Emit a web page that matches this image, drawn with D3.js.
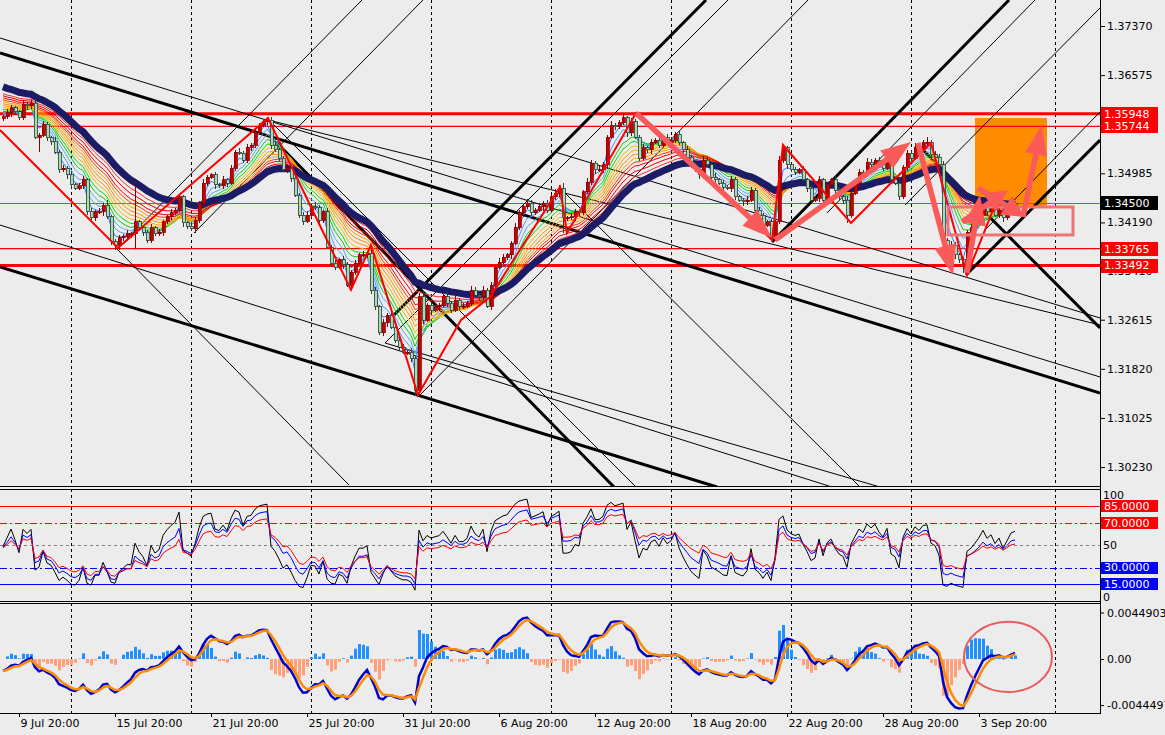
<!DOCTYPE html>
<html>
<head>
<meta charset="utf-8">
<script src="https://cdn.jsdelivr.net/npm/d3@7"></script>
<style>
  body { margin: 0; background: #ececec; }
  svg { display: block; font-family: "DejaVu Sans", sans-serif; font-size: 11px; }
</style>
</head>
<body>
<div id="chart"></div>
<script>
// ---- price data (H4 closes) ----
const firstOpen = 1.35880;
const closes = [
  1.35897,1.35962,1.36043,1.35978,1.35881,1.36107,1.36075,1.36123,1.35573,1.35605,
  1.35783,1.35557,1.35508,1.35330,1.35039,1.35071,1.34958,1.34796,1.34747,1.34780,
  1.34877,1.34375,1.34262,1.34359,1.34359,1.34472,1.34278,1.33889,1.33824,1.33938,
  1.33970,1.34003,1.34003,1.34197,1.34100,1.34035,1.33905,1.34100,1.34003,1.34035,
  1.34197,1.34278,1.34343,1.34391,1.34602,1.34181,1.34132,1.34084,1.34229,1.34504,
  1.34828,1.34925,1.34958,1.34796,1.34780,1.34877,1.34828,1.35071,1.35330,1.35314,
  1.35200,1.35411,1.35443,1.35638,1.35767,1.35816,1.35848,1.35443,1.35363,1.35233,
  1.35039,1.35071,1.34909,1.34634,1.34310,1.34213,1.34310,1.34440,1.34424,1.34229,
  1.34359,1.33792,1.33533,1.33468,1.33582,1.33501,1.33177,1.33387,1.33533,1.33663,
  1.33663,1.33695,1.33096,1.32821,1.32400,1.32562,1.32691,1.32497,1.32286,1.32173,
  1.32092,1.32092,1.31995,1.31477,1.32983,1.32610,1.32853,1.32772,1.32821,1.32853,
  1.32983,1.32885,1.32772,1.32934,1.32837,1.32837,1.32885,1.33096,1.33015,1.32983,
  1.33096,1.32837,1.33177,1.33468,1.33549,1.33630,1.33663,1.33857,1.34116,1.34343,
  1.34440,1.34504,1.34343,1.34391,1.34440,1.34504,1.34391,1.34602,1.34666,1.34747,
  1.34262,1.34262,1.34278,1.34359,1.34343,1.34683,1.34844,1.35152,1.35039,1.35039,
  1.35120,1.35573,1.35767,1.35735,1.35800,1.35881,1.35638,1.35816,1.35573,1.35233,
  1.35395,1.35363,1.35492,1.35524,1.35443,1.35557,1.35492,1.35524,1.35621,1.35476,
  1.35363,1.35249,1.35120,1.35039,1.34958,1.35200,1.35120,1.34925,1.34877,1.34828,
  1.34763,1.34747,1.34877,1.34602,1.34553,1.34521,1.34553,1.34715,1.34391,1.34310,
  1.34148,1.34197,1.33954,1.34197,1.35200,1.35395,1.35120,1.35039,1.35006,1.35039,
  1.34877,1.34747,1.34553,1.34585,1.34877,1.34553,1.34796,1.34877,1.34715,1.34602,
  1.34553,1.34310,1.34666,1.34828,1.35006,1.34958,1.35168,1.35120,1.35200,1.35120,
  1.35071,1.35200,1.34877,1.34828,1.34602,1.35087,1.35314,1.35233,1.35411,1.35363,
  1.35476,1.35492,1.35282,1.35249,1.35120,1.33905,1.33776,1.33824,1.33663,1.33582,
  1.33501,1.34035,1.34100,1.34197,1.34310,1.34472,1.34359,1.34424,1.34310,1.34391,
  1.34262,1.34359,1.34472,1.34500
];
// wick lengths in pips
const upperWick = [
  4,6,5,3,4,7,3,5,6,4, 5,3,4,6,4,5,3,6,4,5, 7,4,5,3,6,4,8,3,4,5, 4,6,3,65,4,5,3,6,4,5,
  3,4,6,4,5,3,4,6,5,4, 6,4,3,5,4,6,3,5,4,6, 4,5,3,6,4,3,4,5,6,3, 4,6,5,3,4,5,6,4,8,5,
  4,6,3,5,4,6,5,4,5,3, 6,4,13,5,3,6,4,5,3,4, 5,3,6,4,6,10,4,5,6,3, 5,8,4,6,3,5,4,7,5,4,
  6,3,5,4,6,5,4,3,6,5, 4,6,5,3,7,4,5,4,6,5, 8,4,6,5,3,4,6,5,4,6, 5,4,6,3,5,8,4,6,5,4,
  6,4,5,3,5,4,6,5,3,5, 4,6,3,5,4,6,5,4,6,3, 5,4,6,5,3,4,6,5,4,5, 4,3,5,4,6,5,4,3,5,4,
  6,4,5,3,6,4,5,4,6,5, 4,6,5,3,5,4,6,5,4,5, 6,4,5,3,6,4,5,4,6,5, 5,8,4,6,5,7,4,6,5,4,
  5,4,6,5,4,6,5,4,6,5, 4,6,5,3
];
const lowerWick = [
  5,4,6,5,3,4,6,5,4,25, 4,5,6,3,5,4,6,5,4,3, 5,6,4,5,3,6,4,6,8,8, 5,4,6,25,5,6,4,5,3,4,
  6,4,5,3,4,6,5,4,6,5, 4,5,3,6,4,5,6,4,5,3, 5,4,6,5,3,4,5,6,4,5, 4,5,6,4,5,6,4,5,3,6,
  5,4,6,5,4,6,3,8,5,4, 4,5,6,5,4,5,6,4,5,6, 4,5,6,10,5,6,4,5,3,6, 4,6,5,4,6,5,3,5,4,6,
  5,4,6,5,4,3,5,6,4,5, 6,4,5,3,4,6,5,4,5,6, 24,5,4,6,5,4,3,5,6,4, 5,6,4,5,3,4,6,5,4,5,
  4,5,6,4,5,3,4,6,5,4, 6,4,5,3,6,5,4,6,5,4, 5,4,6,5,4,6,5,3,4,6, 5,4,5,6,4,5,6,4,5,3,
  4,6,5,4,6,5,3,4,6,5, 6,13,5,4,6,5,4,3,5,4, 5,4,6,3,5,4,6,5,4,6, 4,5,6,4,5,6,5,4,6,5,
  13,5,4,6,5,4,6,5,4,5, 6,4,5,3
];

// time axis
const tickBars = [4, 28, 52, 76, 100, 124, 148, 172, 196, 220, 244];
const tickLabels = ['9 Jul 20:00','15 Jul 20:00','21 Jul 20:00','25 Jul 20:00','31 Jul 20:00',
  '6 Aug 20:00','12 Aug 20:00','18 Aug 20:00','22 Aug 20:00','28 Aug 20:00','3 Sep 20:00'];
const gridBars = [17, 47, 77, 107, 137, 167, 197, 227, 263];

// price axis
const priceTicks = [1.37370, 1.36575, 1.34985, 1.34190, 1.33410, 1.32615, 1.31820, 1.31025, 1.30230];
const levelPrices = [1.35948, 1.35744, 1.33765, 1.33492];
const levelThick = [true, false, false, true];
const bidPrice = 1.34500;

// moving average ribbon
const ribbonPeriods = [3, 5, 7, 9, 11, 13, 15, 17, 19, 21, 23, 26, 29];
const ribbonColors = ['#2f7fff','#4c9cff','#5aaaf0','#16c816','#00e000','#ffb400','#ffa000','#ff8c00','#ffa500',
  '#ff3c00','#ff0000','#e80000','#ff2a2a'];
const ribbonSeeds = [1.35945,1.35962,1.35978,1.36010,1.36043,1.36075,1.36107,1.36140,1.36172,1.36204,1.36237,1.36269,1.36301];
const slowPeriod = 34;
const slowSeed = 1.36415;

// drawn objects [bar, price]
const zigzag = [[-0.75,1.35686],[28.75,1.33776],[66.25,1.35881],[87,1.33097],[92,1.33825],[103.75,1.31396],
  [114.5,1.32610],[121.75,1.32983],[139.25,1.34764],[141,1.34019],[158.25,1.35962],[192.25,1.33906],
  [195,1.35444],[212,1.34181],[232,1.35476],[241,1.33339],[248,1.34472]];
const thickLines = [
  [[-0.75,1.36933],[274.25,1.31429]], [[-0.75,1.33469],[178.5,1.29907]], [[68.25,1.35492],[152.75,1.29907]],
  [[97.25,1.32659],[175.75,1.37791]], [[192.25,1.33873],[251.5,1.37791]], [[240.75,1.33339],[274.25,1.35524]],
  [[230,1.35363],[274.25,1.32481]]
];
const thinLines = [
  [[-0.75,1.37176],[274.25,1.31688]], [[-0.75,1.34148],[207.25,1.29907]], [[66.25,1.35848],[274.25,1.32530]],
  [[67.75,1.35767],[158.25,1.29907]], [[28.25,1.33776],[86.5,1.29939]], [[28.75,1.33776],[89.75,1.37791]],
  [[47.75,1.34019],[105,1.37791]], [[104.25,1.31396],[201.25,1.37791]], [[95.5,1.32238],[181.25,1.37791]],
  [[95.5,1.32238],[219.25,1.29907]], [[139.25,1.34747],[214.25,1.29907]], [[206,1.34343],[258,1.37791]],
  [[225.5,1.34472],[274.25,1.37661]], [[245.5,1.34068],[274.25,1.35978]], [[138,1.35330],[274.25,1.32643]]
];
const arrows = [
  [[158.25,1.35962],[192.25,1.33938]], [[193,1.33906],[227,1.35492]], [[228.75,1.35476],[237.5,1.33339]],
  [[241,1.33371],[244.25,1.34634]], [[239.75,1.34197],[251.25,1.34715]], [[243.75,1.34747],[255.5,1.34278]],
  [[255,1.34278],[259.75,1.35767]]
];
const orangeBox = [[243, 1.35881], [261, 1.34440]];
const pinkBox = [[236.25, 1.34440], [267.5, 1.33987]];

// oscillators
const oscLevels = [85, 70, 50, 30, 15];
const oscLevelColors = ['#ff0000', '#ff0000', '#808080', '#0000ff', '#0000ff'];
const oscLevelDash = [null, '7,3,2,3', '3,3', '7,3,2,3', null];
const rsiPeriods = [6, 10, 15];
const rsiColors = ['#000000', '#0000ff', '#ff0000'];
const macdFast = 5, macdSlow = 12, macdSignal = 3;
const macdSeeds = [1.35978, 1.36098];
const macdLabels = [0.0044903, 0, -0.0044497];
const macdCircle = [251.25, 0.0002, 11, 0.0034];

// ---- layout ----
const W = 1165, H = 735;
const right = 1100;
const mainBottom = 486, oscTop = 489, oscBottom = 601, macdTop = 603, macdBottom = 713;

const x = d3.scaleLinear().domain([0, 274.25]).range([3, 1100]);
const y = d3.scaleLinear().domain([1.29923, 1.37791]).range([mainBottom, 0]);
const yOsc = d3.scaleLinear().domain([0, 100]).range([600.8, 489.8]);
const yMacd = d3.scaleLinear().domain([-0.00522, 0.00541]).range([macdBottom, macdTop]);

// ---- indicators computed from the closes ----
const ema = (vals, period, seed) => {
  const k = 2 / (period + 1);
  let e = seed;
  return vals.map(v => (e = e + k * (v - e)));
};
const rsi = (period) => {
  let ag = 0.0004, al = 0.00045;
  return closes.map((c, i) => {
    const d = c - (i ? closes[i - 1] : firstOpen);
    ag = (ag * (period - 1) + Math.max(d, 0)) / period;
    al = (al * (period - 1) + Math.max(-d, 0)) / period;
    return 100 * ag / (ag + al);
  });
};
const fastE = ema(closes, macdFast, macdSeeds[0]);
const slowE = ema(closes, macdSlow, macdSeeds[1]);
const macd = fastE.map((f, i) => f - slowE[i]);
const signal = ema(macd, macdSignal, macd[0]);
const hist = macd.map((m, i) => 2.5 * (m - signal[i]));

const candles = closes.map((c, i) => {
  const o = i ? closes[i - 1] : firstOpen;
  return { i, o, c, h: Math.max(o, c) + upperWick[i] * 0.0001, l: Math.min(o, c) - lowerWick[i] * 0.0001 };
});

// ---- svg ----
const svg = d3.select('#chart').append('svg').attr('width', W).attr('height', H);
svg.append('rect').attr('width', W).attr('height', H).attr('fill', '#ececec');

const defs = svg.append('defs');
const clip = (id, y0, y1) => defs.append('clipPath').attr('id', id)
  .append('rect').attr('x', 0).attr('y', y0).attr('width', right).attr('height', y1 - y0);
clip('cMain', 0, mainBottom);
clip('cOsc', oscTop, oscBottom);
clip('cMacd', macdTop, macdBottom);

const main = svg.append('g').attr('clip-path', 'url(#cMain)');
const osc = svg.append('g').attr('clip-path', 'url(#cOsc)');
const mac = svg.append('g').attr('clip-path', 'url(#cMacd)');

// vertical grid
[[main, 0, mainBottom], [osc, oscTop, oscBottom], [mac, macdTop, macdBottom]].forEach(([g, a, b]) => {
  g.selectAll(null).data(gridBars).enter().append('line')
    .attr('x1', d => Math.round(x(d)) + 0.5).attr('x2', d => Math.round(x(d)) + 0.5)
    .attr('y1', a).attr('y2', b)
    .attr('stroke', '#000').attr('stroke-dasharray', '3,3');
});

// orange box behind everything
const rectOf = (g, box) => g.append('rect')
  .attr('x', x(box[0][0])).attr('y', y(box[0][1]))
  .attr('width', x(box[1][0]) - x(box[0][0])).attr('height', y(box[1][1]) - y(box[0][1]));
rectOf(main, orangeBox).attr('fill', '#ff8c00');

// horizontal levels
main.selectAll(null).data(levelPrices).enter().append('line')
  .attr('x1', 0).attr('x2', right)
  .attr('y1', d => y(d)).attr('y2', d => y(d))
  .attr('stroke', '#ff0000').attr('stroke-width', (d, i) => levelThick[i] ? 3 : 1.3);
main.append('line').attr('x1', 0).attr('x2', right)
  .attr('y1', Math.round(y(bidPrice)) + 0.5).attr('y2', Math.round(y(bidPrice)) + 0.5)
  .attr('stroke', '#4a6fd0');

// trend lines
const seg = (g, pts, w) => g.append('line')
  .attr('x1', x(pts[0][0])).attr('y1', y(pts[0][1]))
  .attr('x2', x(pts[1][0])).attr('y2', y(pts[1][1]))
  .attr('stroke', '#000').attr('stroke-width', w);
thinLines.forEach(l => seg(main, l, 1));
thickLines.forEach(l => seg(main, l, 3));

// ribbon
const priceLine = d3.line().x((d, i) => x(i)).y(d => y(d));
ribbonPeriods.forEach((p, k) => {
  main.append('path').datum(ema(closes, p, ribbonSeeds[k]))
    .attr('d', priceLine).attr('fill', 'none')
    .attr('stroke', ribbonColors[k]).attr('stroke-width', 1);
});
main.append('path').datum(ema(closes, slowPeriod, slowSeed))
  .attr('d', priceLine).attr('fill', 'none')
  .attr('stroke', '#1b1b66').attr('stroke-width', 7);

// candles
const cg = main.append('g').attr('shape-rendering', 'crispEdges');
cg.selectAll('line').data(candles).enter().append('line')
  .attr('x1', d => x(d.i) + 0.5).attr('x2', d => x(d.i) + 0.5)
  .attr('y1', d => y(d.h)).attr('y2', d => y(d.l))
  .attr('stroke', d => d.c >= d.o ? '#8b0000' : '#2e3d34');
cg.selectAll('rect').data(candles).enter().append('rect')
  .attr('x', d => x(d.i) - 1)
  .attr('y', d => y(Math.max(d.o, d.c)))
  .attr('width', 3)
  .attr('height', d => Math.max(1, Math.abs(y(d.o) - y(d.c))))
  .attr('fill', d => d.c >= d.o ? '#c80000' : '#a8dbb4')
  .attr('stroke', d => d.c >= d.o ? '#8b0000' : '#2e3d34').attr('stroke-width', 0.8);

// zigzag
main.append('path').datum(zigzag)
  .attr('d', d3.line().x(d => x(d[0])).y(d => y(d[1])))
  .attr('fill', 'none').attr('stroke', '#ff0000').attr('stroke-width', 2);

// pink box outline
rectOf(main, pinkBox).attr('fill', 'none').attr('stroke', '#f07474').attr('stroke-width', 3);

// arrows
const arrowPts = (a) => {
  const x1 = x(a[0][0]), y1 = y(a[0][1]), x2 = x(a[1][0]), y2 = y(a[1][1]);
  const dx = x2 - x1, dy = y2 - y1, len = Math.hypot(dx, dy);
  const ux = dx / len, uy = dy / len, nx = -uy, ny = ux;
  const hl = Math.min(30, len * 0.4), hw = 11, sw = 2.8;
  const bx = x2 - ux * hl, by = y2 - uy * hl;
  return [[x1 + nx * sw, y1 + ny * sw], [bx + nx * sw, by + ny * sw], [bx + nx * hw, by + ny * hw], [x2, y2],
    [bx - nx * hw, by - ny * hw], [bx - nx * sw, by - ny * sw], [x1 - nx * sw, y1 - ny * sw]];
};
main.selectAll('polygon.arrow').data(arrows).enter().append('polygon')
  .attr('class', 'arrow')
  .attr('points', d => arrowPts(d).map(p => p.join(',')).join(' '))
  .attr('fill', '#fa5a5a');

// ---- oscillator panel ----
oscLevels.forEach((v, k) => {
  osc.append('line').attr('x1', 0).attr('x2', right)
    .attr('y1', Math.round(yOsc(v)) + 0.5).attr('y2', Math.round(yOsc(v)) + 0.5)
    .attr('stroke', oscLevelColors[k]).attr('stroke-dasharray', oscLevelDash[k]);
});
const oscLine = d3.line().x((d, i) => x(i)).y(d => yOsc(d));
rsiPeriods.forEach((p, k) => {
  osc.append('path').datum(rsi(p)).attr('d', oscLine)
    .attr('fill', 'none').attr('stroke', rsiColors[k]).attr('stroke-width', 1);
});

// ---- macd panel ----
mac.selectAll('rect').data(hist).enter().append('rect')
  .attr('x', (d, i) => x(i) - 1).attr('width', 3)
  .attr('y', d => yMacd(Math.max(0, d)))
  .attr('height', d => Math.abs(yMacd(d) - yMacd(0)))
  .attr('fill', d => d >= 0 ? '#1e90ff' : '#ffa07a');
const macLine = d3.line().x((d, i) => x(i)).y(d => yMacd(d));
mac.append('path').datum(macd).attr('d', macLine)
  .attr('fill', 'none').attr('stroke', '#0000cd').attr('stroke-width', 2.5);
mac.append('path').datum(signal).attr('d', macLine)
  .attr('fill', 'none').attr('stroke', '#ff8c00').attr('stroke-width', 2.5);
mac.append('ellipse')
  .attr('cx', x(macdCircle[0])).attr('cy', yMacd(macdCircle[1]))
  .attr('rx', x(macdCircle[0] + macdCircle[2]) - x(macdCircle[0]))
  .attr('ry', yMacd(0) - yMacd(macdCircle[3]))
  .attr('fill', 'none').attr('stroke', '#e85c5c').attr('stroke-width', 2);

// ---- frames ----
const frame = svg.append('g').attr('stroke', '#000').attr('shape-rendering', 'crispEdges');
[mainBottom + 0.5, oscTop + 0.5, oscBottom + 0.5, macdTop + 0.5, macdBottom + 0.5].forEach(v =>
  frame.append('line').attr('x1', 0).attr('x2', right + 1).attr('y1', v).attr('y2', v));
frame.append('line').attr('x1', right + 0.5).attr('x2', right + 0.5).attr('y1', 0).attr('y2', macdBottom);

// ---- axes ----
const priceAxis = svg.append('g').attr('transform', `translate(${right + 1},0)`)
  .call(d3.axisRight(y).tickValues(priceTicks).tickFormat(d3.format('.5f')).tickSize(4).tickPadding(2));
priceAxis.select('.domain').remove();

const tag = (yy, text, bg, h) => {
  svg.append('rect').attr('x', right + 1).attr('y', Math.round(yy) - h / 2).attr('width', 57).attr('height', h).attr('fill', bg);
  svg.append('text').attr('x', right + 4).attr('y', yy).attr('dy', '0.35em').attr('fill', '#fff').text(text);
};
levelPrices.forEach(p => tag(y(p), d3.format('.5f')(p), '#ff0000', 14));
tag(y(bidPrice), d3.format('.5f')(bidPrice), '#000000', 14);

// osc axis
svg.append('text').attr('x', right + 3).attr('y', yOsc(100) + 5).attr('dy', '0.35em').text('100');
svg.append('text').attr('x', right + 3).attr('y', yOsc(50)).attr('dy', '0.35em').text('50');
svg.append('text').attr('x', right + 3).attr('y', yOsc(0) - 4).attr('dy', '0.35em').text('0');
oscLevels.forEach((v, k) => {
  if (v === 50) return;
  tag(yOsc(v), d3.format('.4f')(v), oscLevelColors[k], 12);
});

// macd axis
const macdAxis = svg.append('g').attr('transform', `translate(${right + 1},0)`)
  .call(d3.axisRight(yMacd).tickValues(macdLabels)
    .tickFormat(d => d === 0 ? '0.00' : String(d)).tickSize(3).tickPadding(3));
macdAxis.select('.domain').remove();

// time axis
const timeAxis = svg.append('g').attr('transform', `translate(0,${macdBottom})`)
  .call(d3.axisBottom(x).tickValues(tickBars).tickFormat((d, i) => tickLabels[i]).tickSize(4).tickPadding(2));
timeAxis.select('.domain').remove();
timeAxis.selectAll('text').attr('text-anchor', 'start').attr('x', 1);

svg.selectAll('.tick text').attr('font-family', '"DejaVu Sans", sans-serif').attr('font-size', 11).attr('fill', '#000');
svg.selectAll('.tick line').attr('stroke', '#000');
</script>
</body>
</html>
